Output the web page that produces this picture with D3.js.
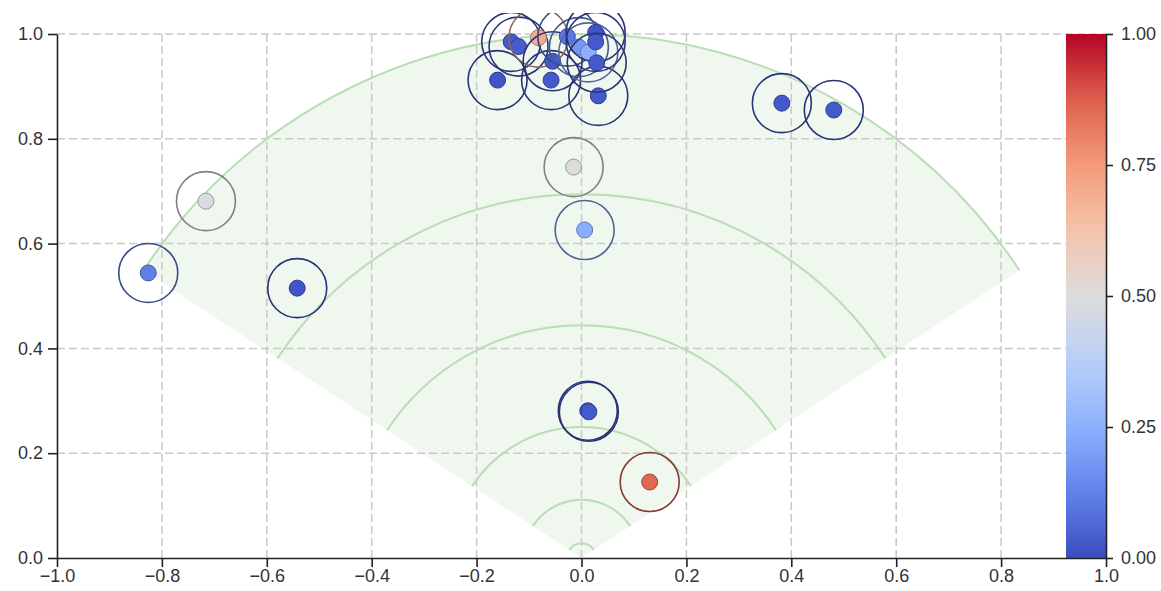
<!DOCTYPE html>
<html>
<head>
<meta charset="utf-8">
<script src="https://cdn.jsdelivr.net/npm/d3@7"></script>
<style>
  html, body { margin: 0; padding: 0; background: #fff; }
  svg { display: block; font-family: "Liberation Sans", Arial, sans-serif; }
  .axis text { font-size: 18px; fill: #333; }
  .axis path, .axis line { stroke: #222; stroke-width: 1.6; }
</style>
</head>
<body>
<svg id="chart" width="1161" height="591"></svg>
<script>
// Detection positions (x, y) and their scores
const pointX = [-0.826, -0.716, -0.542, -0.015, 0.006, 0.012, 0.014, 0.130, 0.382, 0.481,
                -0.160, -0.058, 0.032, -0.134, -0.120, -0.082, -0.055, -0.027, -0.005, 0.013, 0.027, 0.027, 0.029];
const pointY = [0.544, 0.681, 0.515, 0.746, 0.626, 0.281, 0.279, 0.145, 0.868, 0.855,
                0.912, 0.912, 0.882, 0.985, 0.976, 0.993, 0.948, 0.995, 0.975, 0.965, 1.003, 0.985, 0.945];
const pointScore = [0.12, 0.49, 0.02, 0.50, 0.24, 0.02, 0.03, 0.86, 0.03, 0.03,
                    0.02, 0.03, 0.03, 0.03, 0.04, 0.70, 0.03, 0.10, 0.18, 0.25, 0.02, 0.03, 0.03];

// Range rings of the sensor field of view
const ringRadii = [0.028, 0.111, 0.25, 0.444, 0.694, 1.0];
const fovHalfAngleDeg = 56.7;

// Tick values
const xTicks = [-1.0, -0.8, -0.6, -0.4, -0.2, 0.0, 0.2, 0.4, 0.6, 0.8, 1.0];
const yTicks = [0.0, 0.2, 0.4, 0.6, 0.8, 1.0];
const cbTicks = [0.00, 0.25, 0.50, 0.75, 1.00];

// coolwarm colour map stops
const coolwarmStops = ["#3b4cc0", "#6282ea", "#8db0fe", "#b9d0f9", "#dddcdc", "#f5c4ac", "#f49a7b", "#dd604d", "#b40426"];

const svg = d3.select("#chart");
const plotL = 57, plotR = 1106, plotT = 34, plotB = 558;

const x = d3.scaleLinear().domain([-1, 1]).range([plotL, plotR]);
const y = d3.scaleLinear().domain([0, 1]).range([plotB, plotT]);
const color = d3.scaleSequential(d3.piecewise(d3.interpolateRgb, coolwarmStops)).domain([0, 1]);

const cx = x(0), cy = y(0);
const unit = y(0) - y(1);
const half = fovHalfAngleDeg * Math.PI / 180;

// Field-of-view wedge
svg.append("path")
  .attr("transform", `translate(${cx},${cy})`)
  .attr("d", d3.arc().innerRadius(0).outerRadius(unit).startAngle(-half).endAngle(half)())
  .attr("fill", "#f0f7ef");

// Grid
const grid = svg.append("g").attr("stroke", "#c9c9c9").attr("stroke-width", 1.5).attr("stroke-dasharray", "8,4");
grid.selectAll("line.v").data(xTicks.filter(d => d > -1)).join("line")
  .attr("x1", d => x(d)).attr("x2", d => x(d)).attr("y1", plotB).attr("y2", plotT);
grid.selectAll("line.h").data(yTicks.filter(d => d > 0)).join("line")
  .attr("x1", plotL).attr("x2", plotR).attr("y1", d => y(d)).attr("y2", d => y(d));

// Range rings
svg.append("g").selectAll("path").data(ringRadii).join("path")
  .attr("d", r => {
    const p = d3.path();
    const a0 = -Math.PI / 2 - half, a1 = -Math.PI / 2 + half;
    const R = r * unit;
    p.moveTo(cx + R * Math.cos(a0), cy + R * Math.sin(a0));
    p.arc(cx, cy, R, a0, a1);
    return p.toString();
  })
  .attr("fill", "none")
  .attr("stroke", "#b9ddb4")
  .attr("stroke-width", 2);

// Points
svg.append("clipPath").attr("id", "clip")
  .append("rect").attr("x", 0).attr("y", 13).attr("width", 1161).attr("height", 578);

const pts = pointX.map((d, i) => ({ x: d, y: pointY[i], s: pointScore[i] }));
const pg = svg.append("g").attr("clip-path", "url(#clip)");
const g = pg.selectAll("g").data(pts).join("g");
g.append("circle")
  .attr("cx", d => x(d.x)).attr("cy", d => y(d.y)).attr("r", 29.5)
  .attr("fill", "none")
  .attr("stroke", d => d3.color(color(d.s)).darker(1.5))
  .attr("stroke-width", 1.6);
g.append("circle")
  .attr("cx", d => x(d.x)).attr("cy", d => y(d.y)).attr("r", 8)
  .attr("fill", d => color(d.s))
  .attr("stroke", d => d3.color(color(d.s)).darker(1))
  .attr("stroke-width", 1);

// Colour bar
const cbW = 40;
const cbY = d3.scaleLinear().domain([0, 1]).range([plotB, plotT]);
const defs = svg.append("defs");
const grad = defs.append("linearGradient").attr("id", "cb").attr("x1", 0).attr("x2", 0).attr("y1", 1).attr("y2", 0);
d3.range(0, 1.0001, 0.05).forEach(t => grad.append("stop").attr("offset", t).attr("stop-color", color(t)));
svg.append("rect").attr("x", plotR - cbW).attr("y", plotT).attr("width", cbW).attr("height", plotB - plotT).attr("fill", "url(#cb)");

// Axes
svg.append("g").attr("class", "axis").attr("transform", `translate(0,${plotB})`)
  .call(d3.axisBottom(x).tickValues(xTicks).tickFormat(d3.format(".1f")).tickSize(9).tickPadding(2).tickSizeOuter(0));
svg.append("g").attr("class", "axis").attr("transform", `translate(${plotL},0)`)
  .call(d3.axisLeft(y).tickValues(yTicks).tickFormat(d3.format(".1f")).tickSize(9).tickPadding(5).tickSizeOuter(0));
svg.append("g").attr("class", "axis").attr("transform", `translate(${plotR},0)`)
  .call(d3.axisRight(cbY).tickValues(cbTicks).tickFormat(d3.format(".2f")).tickSize(7).tickPadding(8).tickSizeOuter(0));
</script>
</body>
</html>
